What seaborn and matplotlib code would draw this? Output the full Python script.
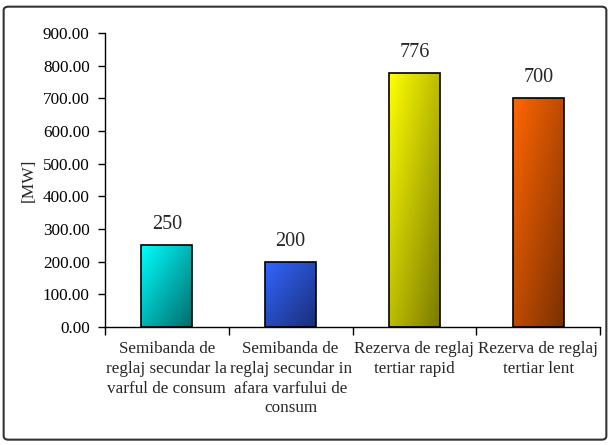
import matplotlib
matplotlib.use("Agg")
import matplotlib.pyplot as plt
import matplotlib.colors as mcolors
from matplotlib.patches import FancyBboxPatch
import numpy as np
import pandas as pd
import seaborn as sns

categories = [
    "Semibanda de\nreglaj secundar la\nvarful de consum",
    "Semibanda de\nreglaj secundar in\nafara varfului de\nconsum",
    "Rezerva de reglaj\ntertiar rapid",
    "Rezerva de reglaj\ntertiar lent",
]
values = [250, 200, 776, 700]
light_colors = ["#00FFFF", "#3366FF", "#FFFF00", "#FF6600"]
dark_colors = ["#006B6B", "#1A2E78", "#7A7A00", "#7A3000"]

df = pd.DataFrame({"cat": categories, "val": values})

sns.set_style("white")
plt.rcParams["font.family"] = ["Liberation Serif", "DejaVu Serif"]

fig = plt.figure(figsize=(6.1, 4.45), dpi=100)
ax = fig.add_axes([0.172, 0.265, 0.812, 0.661])

sns.barplot(data=df, x="cat", y="val", ax=ax, width=0.41,
            color="white", edgecolor="black", linewidth=1.2, saturation=1)

# diagonal gradient fill, light top-left to dark bottom-right
yy, xx = np.mgrid[0:1:100j, 0:1:100j]
grad = (xx + yy) / 2.0
for patch, c1, c2 in zip(ax.patches, light_colors, dark_colors):
    x0, y0 = patch.get_x(), patch.get_y()
    w, h = patch.get_width(), patch.get_height()
    cmap = mcolors.LinearSegmentedColormap.from_list("g", [c1, c2])
    im = ax.imshow(grad, cmap=cmap, extent=[x0, x0 + w, y0, y0 + h],
                   origin="upper", aspect="auto", zorder=patch.get_zorder() - 0.1)
    im.set_clip_path(patch)
    patch.set_facecolor("none")
    patch.set_zorder(3)

for i, v in enumerate(values):
    ax.annotate(str(v), (i, v), xytext=(0, 8), textcoords="offset points",
                ha="center", va="bottom", fontsize=14.5)

ax.set_xlim(-0.5, 3.5)
ax.set_ylim(0, 900)
ax.set_yticks(np.arange(0, 901, 100))
ax.set_yticklabels([f"{t:.2f}" for t in np.arange(0, 901, 100)], fontsize=12.3)
ax.set_xticks([-0.5, 0.5, 1.5, 2.5, 3.5], minor=False)
ax.set_xticklabels([])
for i, c in enumerate(categories):
    ax.text(i, -44, c, ha="center", va="top", fontsize=12.3,
            linespacing=1.3, transform=ax.transData)

ax.tick_params(axis="both", direction="out", length=5, width=1,
               bottom=True, left=True, colors="black")
ax.tick_params(axis="y", pad=6)
ax.tick_params(axis="x", length=6)
for s in ["top", "right"]:
    ax.spines[s].set_visible(False)
for s in ["left", "bottom"]:
    ax.spines[s].set_color("black")
    ax.spines[s].set_linewidth(1)

ax.set_xlabel("")
ax.set_ylabel("[MW]", fontsize=12.5, labelpad=4)

border = FancyBboxPatch((0.006, 0.012), 0.988, 0.973,
                        boxstyle="round,pad=0,rounding_size=0.008",
                        transform=fig.transFigure, fill=False,
                        edgecolor="#333333", linewidth=1.5)
fig.patches.append(border)

fig.savefig("out.png", dpi=100)
